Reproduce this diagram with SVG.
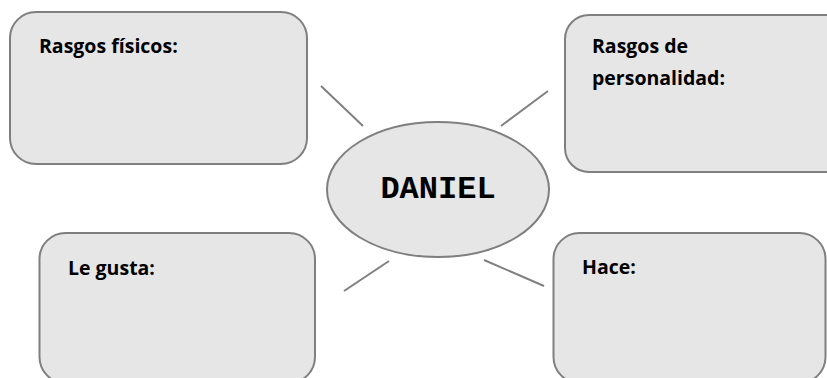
<svg xmlns="http://www.w3.org/2000/svg" width="827" height="378" viewBox="0 0 827 378">
<style>
.box{fill:#e6e6e6;stroke:#7f7f7f;stroke-width:2}
.lbl{font-family:"Open Sans","Noto Sans","Liberation Sans",sans-serif;font-weight:bold;font-size:19.5px;fill:#000}
.conn line{stroke:#808080;stroke-width:2}
.name{font-family:"Liberation Mono","Courier New",monospace;font-weight:bold;font-size:32px;fill:#000}
</style>
<rect width="827" height="378" fill="#fff"/>
<g class="conn">
<line x1="321" y1="86" x2="363" y2="126"/>
<line x1="548" y1="91" x2="501" y2="126"/>
<line x1="389" y1="261" x2="344" y2="291"/>
<line x1="484" y1="260" x2="544" y2="286"/>
</g>
<g id="rasgos-fisicos">
<rect class="box" x="10" y="12" width="297" height="152" rx="26"/>
<text class="lbl" x="39" y="53">Rasgos físicos:</text>
</g>
<g id="rasgos-personalidad">
<rect class="box" x="565" y="15" width="290" height="157" rx="24"/>
<text class="lbl" x="592" y="53">Rasgos de</text>
<text class="lbl" x="592" y="85">personalidad:</text>
</g>
<g id="daniel">
<ellipse class="box" cx="438" cy="189.5" rx="111" ry="67.5"/>
<text class="name" x="438" y="198" text-anchor="middle">DANIEL</text>
</g>
<g id="le-gusta">
<rect class="box" x="39.5" y="233" width="275.5" height="150" rx="26"/>
<text class="lbl" x="68" y="275">Le gusta:</text>
</g>
<g id="hace">
<rect class="box" x="553.5" y="233" width="272" height="150" rx="26"/>
<text class="lbl" x="582" y="274">Hace:</text>
</g>
</svg>
